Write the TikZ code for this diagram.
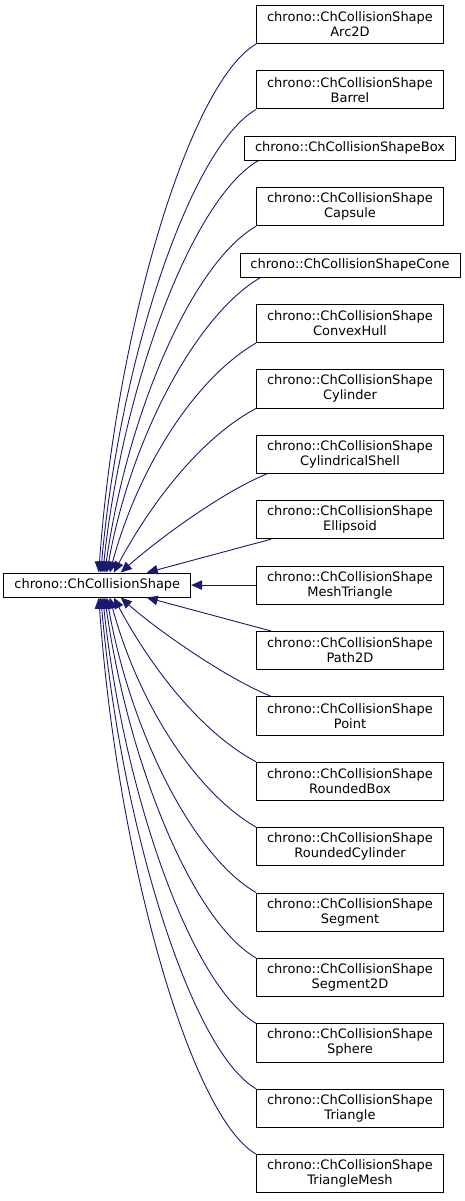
\documentclass[tikz,border=0pt]{standalone}
\usepackage{fontspec}
\setmainfont{DejaVu Sans}
\usetikzlibrary{arrows.meta, positioning}
\definecolor{midnightblue}{RGB}{25,25,112}

\begin{document}
\begin{tikzpicture}[
  x=1pt, y=1pt,
  node distance=26.4pt and 65pt,
  box/.style={rectangle, draw=black, fill=white, line width=0.9pt, align=center,
              inner xsep=10.5pt, inner ysep=2pt, minimum height=38.1pt,
              font=\fontsize{13}{15}\selectfont},
  onebox/.style={box, minimum height=24.1pt},
  edge/.style={-{Triangle[length=11pt,width=9.5pt]}, draw=midnightblue, line width=0.9pt}
]
\useasboundingbox (0,0) rectangle (465,-1201);

\node[box]                          (arc2d)      at (350,-24.5) {chrono::ChCollisionShape\\Arc2D};
\node[box,    below=of arc2d]       (barrel)     {chrono::ChCollisionShape\\Barrel};
\node[onebox, below=of barrel]      (shapebox)   {chrono::ChCollisionShapeBox};
\node[box,    below=of shapebox]    (capsule)    {chrono::ChCollisionShape\\Capsule};
\node[onebox, below=of capsule]     (cone)       {chrono::ChCollisionShapeCone};
\node[box,    below=of cone]        (convexhull) {chrono::ChCollisionShape\\ConvexHull};
\node[box,    below=of convexhull]  (cylinder)   {chrono::ChCollisionShape\\Cylinder};
\node[box,    below=of cylinder]    (cylshell)   {chrono::ChCollisionShape\\CylindricalShell};
\node[box,    below=of cylshell]    (ellipsoid)  {chrono::ChCollisionShape\\Ellipsoid};
\node[box,    below=of ellipsoid]   (meshtri)    {chrono::ChCollisionShape\\MeshTriangle};
\node[box,    below=of meshtri]     (path2d)     {chrono::ChCollisionShape\\Path2D};
\node[box,    below=of path2d]      (point)      {chrono::ChCollisionShape\\Point};
\node[box,    below=of point]       (roundedbox) {chrono::ChCollisionShape\\RoundedBox};
\node[box,    below=of roundedbox]  (roundedcyl) {chrono::ChCollisionShape\\RoundedCylinder};
\node[box,    below=of roundedcyl]  (segment)    {chrono::ChCollisionShape\\Segment};
\node[box,    below=of segment]     (segment2d)  {chrono::ChCollisionShape\\Segment2D};
\node[box,    below=of segment2d]   (sphere)     {chrono::ChCollisionShape\\Sphere};
\node[box,    below=of sphere]      (triangle)   {chrono::ChCollisionShape\\Triangle};
\node[box,    below=of triangle]    (trimesh)    {chrono::ChCollisionShape\\TriangleMesh};

\node[onebox, left=of meshtri]      (base)       {chrono::ChCollisionShape};

% edges from the upper children
\draw[edge] (arc2d.south west) to[out=-150, in=86, out distance=77pt, in distance=243pt] ([xshift=1.5pt]base.north);
\draw[edge] (barrel.south west) to[out=-150, in=85, out distance=76pt, in distance=213pt] ([xshift=3.5pt]base.north);
\draw[edge] ([xshift=14pt]shapebox.south west) to[out=-150, in=84, out distance=75pt, in distance=190pt] ([xshift=5.5pt]base.north);
\draw[edge] (capsule.south west) to[out=-150, in=82, out distance=74pt, in distance=160pt] ([xshift=7.5pt]base.north);
\draw[edge] ([xshift=21pt]cone.south west) to[out=-150, in=80, out distance=74pt, in distance=136pt] ([xshift=9.5pt]base.north);
\draw[edge] (convexhull.south west) to[out=-150, in=75, out distance=72pt, in distance=106pt] ([xshift=12.5pt]base.north);
\draw[edge] (cylinder.south west) to[out=-152, in=62, out distance=66pt, in distance=72pt] ([xshift=16.5pt]base.north);
\draw[edge] ([xshift=11pt]cylshell.south west) to[out=-158, in=42, out distance=50pt, in distance=45pt] ([xshift=23.5pt]base.north);
\draw[edge] ([xshift=15pt]ellipsoid.south west) -- ([xshift=49.5pt]base.north);
\draw[edge] (meshtri) -- (base);
% edges from the lower children
\draw[edge] ([xshift=15pt]path2d.north west) -- ([xshift=49.5pt]base.south);
\draw[edge] ([xshift=15pt]point.north west) to[out=158, in=-42, out distance=50pt, in distance=45pt] ([xshift=23.5pt]base.south);
\draw[edge] (roundedbox.north west) to[out=152, in=-62, out distance=66pt, in distance=72pt] ([xshift=16.5pt]base.south);
\draw[edge] (roundedcyl.north west) to[out=150, in=-75, out distance=72pt, in distance=106pt] ([xshift=12.5pt]base.south);
\draw[edge] (segment.north west) to[out=150, in=-80, out distance=73pt, in distance=136pt] ([xshift=9.5pt]base.south);
\draw[edge] (segment2d.north west) to[out=150, in=-82, out distance=74pt, in distance=166pt] ([xshift=7.5pt]base.south);
\draw[edge] (sphere.north west) to[out=150, in=-84, out distance=75pt, in distance=196pt] ([xshift=5.5pt]base.south);
\draw[edge] (triangle.north west) to[out=150, in=-85, out distance=76pt, in distance=226pt] ([xshift=3.5pt]base.south);
\draw[edge] (trimesh.north west) to[out=150, in=-86, out distance=77pt, in distance=256pt] ([xshift=1.5pt]base.south);
\end{tikzpicture}
\end{document}
